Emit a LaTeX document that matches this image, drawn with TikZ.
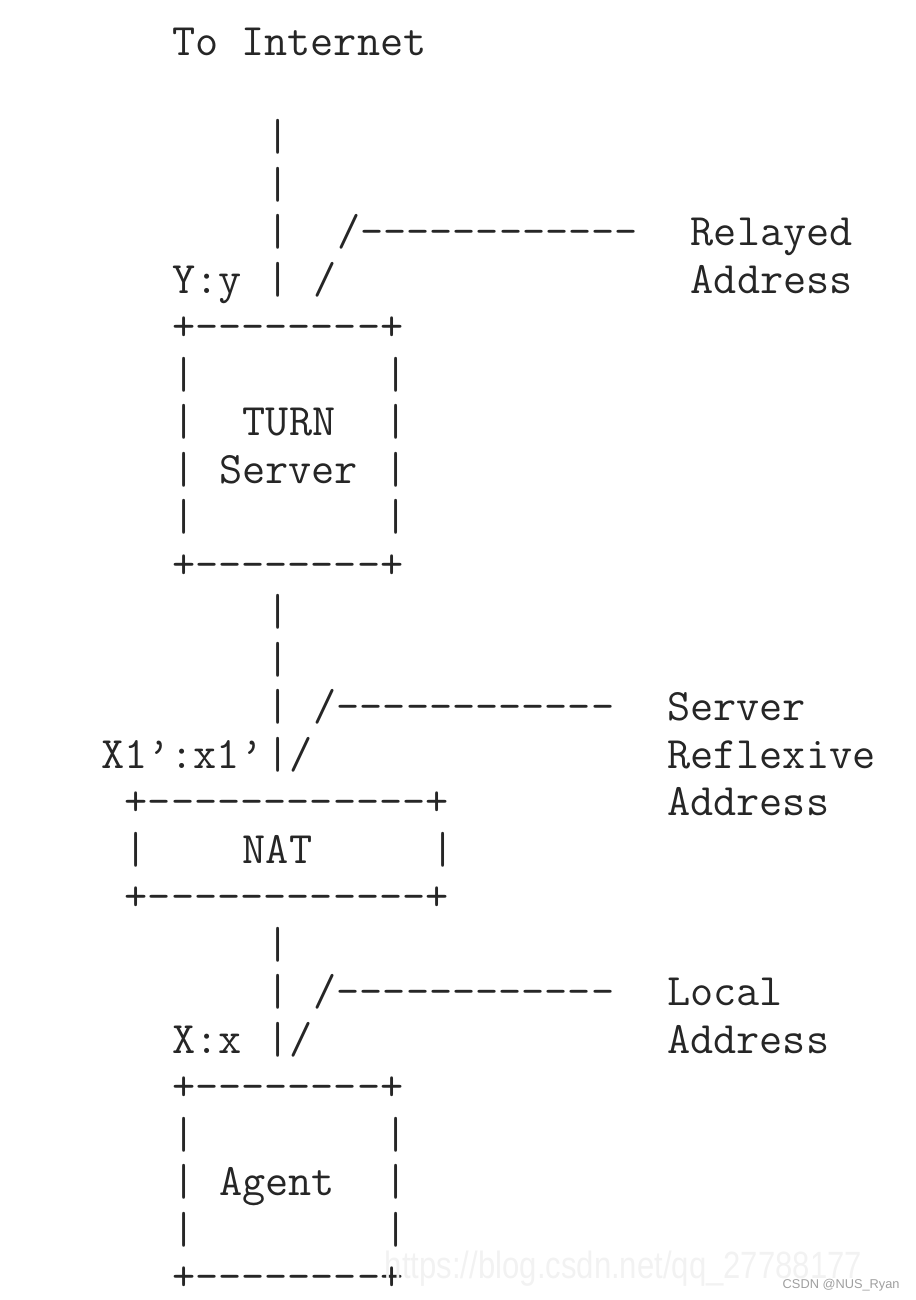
\documentclass[tikz,border=0pt]{standalone}
\usepackage{fontspec}
\setmainfont{Liberation Sans}
\setmonofont{Latin Modern Mono}
\tikzset{
    chars/.style = {anchor = base west, inner sep = 0pt, outer sep = 0pt, text = black!85, font = \ttfamily\fontsize{22.46pt}{23.75pt}\selectfont},
    mark text/.style = {anchor = base west, inner sep = 0pt, outer sep = 0pt}
}
\begin{document}
    \begin{tikzpicture}[x = 11.79pt, y = -23.75pt]
        \useasboundingbox (23.706,-1.1684) rectangle (62.552,26.1995);
        \node[chars] (inet) at (31,0) {To Internet};
        \node[chars] (up2) at (35,2) {|};
        \node[chars] (up3) at (35,3) {|};
        \node[chars] (up4) at (35,4) {|};
        \node[chars] (up5) at (35,5) {|};
        \node[chars] (reldash) at (38,4) {/------------};
        \node[chars] (relslash) at (37,5) {/};
        \node[chars] (relayed) at (53,4) {Relayed};
        \node[chars] (reladdr) at (53,5) {Address};
        \node[chars] (relport) at (31,5) {Y:y};
        \begin{scope}[every node/.style = chars]
            \node (turntop) at (31,6) {+--------+};
            \node (turnl7) at (31,7) {|};
            \node (turnr7) at (40,7) {|};
            \node (turnl8) at (31,8) {|};
            \node (turn) at (34,8) {TURN};
            \node (turnr8) at (40,8) {|};
            \node (turnl9) at (31,9) {|};
            \node (server) at (33,9) {Server};
            \node (turnr9) at (40,9) {|};
            \node (turnl10) at (31,10) {|};
            \node (turnr10) at (40,10) {|};
            \node (turnbot) at (31,11) {+--------+};
        \end{scope}
        \node[chars] (mid12) at (35,12) {|};
        \node[chars] (mid13) at (35,13) {|};
        \node[chars] (mid14) at (35,14) {|};
        \node[chars] (mid15) at (35,15) {|};
        \node[chars] (srfdash) at (37,14) {/------------};
        \node[chars] (srfslash) at (36,15) {/};
        \node[chars] (srfa) at (52,14) {Server};
        \node[chars] (srfb) at (52,15) {Reflexive};
        \node[chars] (srfc) at (52,16) {Address};
        \node[chars] (natport) at (28,15) {X1’:x1’};
        \begin{scope}[every node/.style = chars]
            \node (nattop) at (29,16) {+------------+};
            \node (natl) at (29,17) {|};
            \node (nat) at (34,17) {NAT};
            \node (natr) at (42,17) {|};
            \node (natbot) at (29,18) {+------------+};
        \end{scope}
        \node[chars] (low19) at (35,19) {|};
        \node[chars] (low20) at (35,20) {|};
        \node[chars] (low21) at (35,21) {|};
        \node[chars] (locdash) at (37,20) {/------------};
        \node[chars] (locslash) at (36,21) {/};
        \node[chars] (local) at (52,20) {Local};
        \node[chars] (locaddr) at (52,21) {Address};
        \node[chars] (locport) at (31,21) {X:x};
        \begin{scope}[every node/.style = chars]
            \node (agenttop) at (31,22) {+--------+};
            \node (agentl23) at (31,23) {|};
            \node (agentr23) at (40,23) {|};
            \node (agentl24) at (31,24) {|};
            \node (agent) at (33,24) {Agent};
            \node (agentr24) at (40,24) {|};
            \node (agentl25) at (31,25) {|};
            \node (agentr25) at (40,25) {|};
            \node (agentbot) at (31,26) {+--------+};
        \end{scope}
        \node[mark text, text = gray!10, font = \fontsize{19pt}{19pt}\selectfont] (blog) at (40.03,25.74) {\scalebox{0.818}[1]{https://blog.csdn.net/qq\_27788177}};
        \node[mark text, text = gray!75, font = \fontsize{6.4pt}{6.4pt}\selectfont] (csdn) at (56.9,25.947) {CSDN @NUS\_Ryan};
    \end{tikzpicture}
\end{document}
